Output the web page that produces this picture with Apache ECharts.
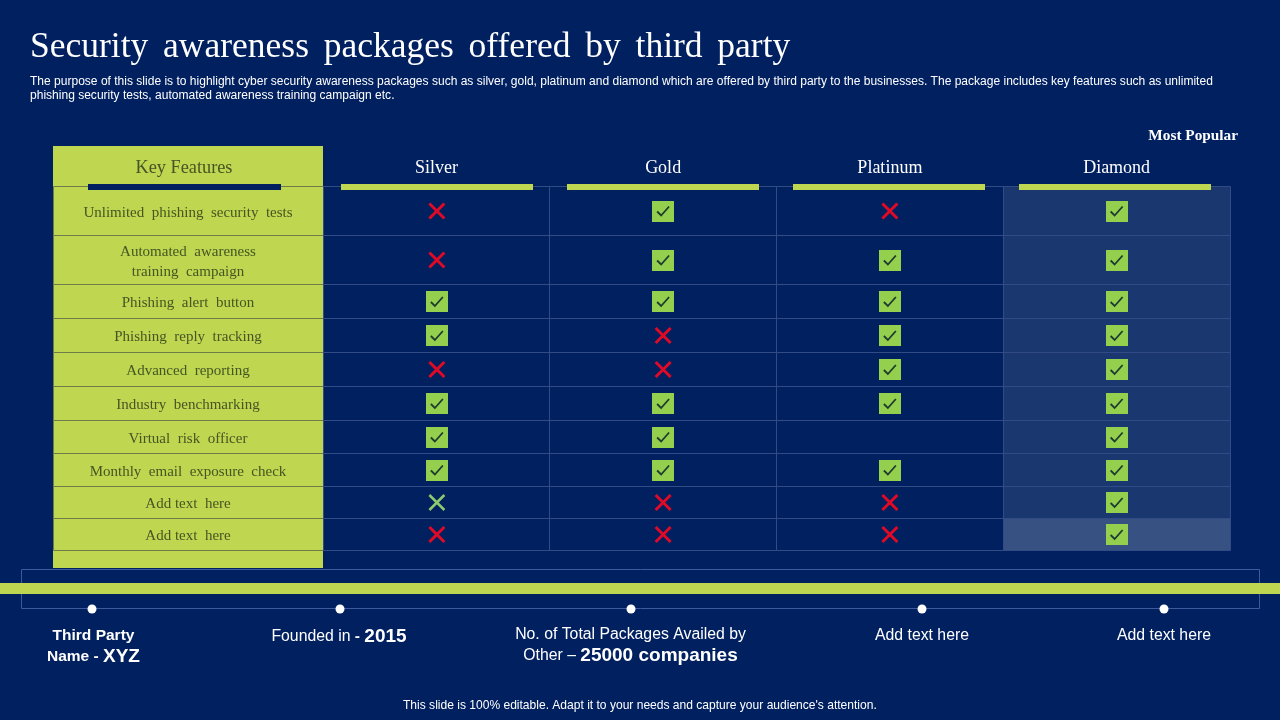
<!DOCTYPE html>
<html>
<head>
<meta charset="utf-8">
<title>Security awareness packages</title>
<style>
  html, body { margin: 0; padding: 0; background: #002060; }
  #main { width: 1280px; height: 720px; }
</style>
<script src="https://cdn.jsdelivr.net/npm/echarts@6/dist/echarts.min.js"></script>
</head>
<body>
<div id="main"></div>
<script>
// c = tick, x = red cross, g = green cross, "" = empty cell
const packages = ["Silver", "Gold", "Platinum", "Diamond"];
const features = [
  "Unlimited  phishing  security  tests",
  "Automated  awareness\ntraining  campaign",
  "Phishing  alert  button",
  "Phishing  reply  tracking",
  "Advanced  reporting",
  "Industry  benchmarking",
  "Virtual  risk  officer",
  "Monthly  email  exposure  check",
  "Add text  here",
  "Add text  here"
];
const silver = ["x", "x", "c", "c", "x", "c", "c", "c", "g", "x"];
const gold = ["c", "c", "c", "x", "x", "c", "c", "c", "x", "x"];
const platinum = ["x", "c", "c", "c", "c", "c", "", "c", "x", "x"];
const diamond = ["c", "c", "c", "c", "c", "c", "c", "c", "c", "c"];
const marks = [silver, gold, platinum, diamond];

// layout, in slide pixels
const rowHeights = [49, 49, 34, 34, 34, 34, 33, 33, 32, 32];
const headerHeight = 41;
const tailHeight = 17;
const LIME = "#BFD650";
const NAVY = "#002060";

const rowTops = [];
rowHeights.reduce((sum, h, i) => { rowTops[i] = sum; return sum + h; }, 0);
const tableHeight = rowHeights.reduce((a, b) => a + b, 0);

// [column, row, mark]
const cellData = [];
marks.forEach((col, c) => col.forEach((m, r) => cellData.push([c, r, m])));

function renderCell(params, api) {
  const c = api.value(0), r = api.value(1), m = marks[c][r];
  const tl = api.coord([c, rowTops[r]]);
  const w = api.size([1, 0])[0];
  const h = rowHeights[r];
  // snap to the pixel grid so the hairlines stay thin
  const x0 = Math.floor(tl[0] - w / 2) + 0.5;
  const x1 = Math.floor(tl[0] + w / 2) + 0.5;
  const y0 = Math.round(tl[1]) - 0.5;
  const cx = tl[0] + (c === 0 ? 0.5 : 0), cy = tl[1] + h / 2 - 0.5;
  let fill = "transparent";
  if (c === 3) fill = r === 9 ? "rgba(255,255,255,0.22)" : "rgba(255,255,255,0.105)";
  const kids = [{
    type: "rect",
    shape: { x: x0, y: y0, width: x1 - x0, height: h },
    style: { fill: fill, stroke: "#324B86", lineWidth: 1 }
  }];
  if (m === "c") {
    kids.push({
      type: "rect",
      shape: { x: Math.round(cx - 11), y: Math.round(cy - 10.5), width: 22, height: 21 },
      style: { fill: "#94D04E" }
    });
    kids.push({
      type: "polyline",
      shape: { points: [[cx - 6, cy + 0.5], [cx - 2, cy + 4.5], [cx + 6, cy - 4.5]] },
      style: { fill: "none", stroke: "#1E3B30", lineWidth: 1.8 }
    });
  } else if (m === "x" || m === "g") {
    const col = m === "x" ? "#DE0A26" : "#8CCB6C";
    const lw = m === "x" ? 3 : 2.5;
    kids.push({
      type: "line",
      shape: { x1: cx - 7.5, y1: cy - 7.5, x2: cx + 7.5, y2: cy + 7.5 },
      style: { stroke: col, lineWidth: lw }
    });
    kids.push({
      type: "line",
      shape: { x1: cx + 7.5, y1: cy - 7.5, x2: cx - 7.5, y2: cy + 7.5 },
      style: { stroke: col, lineWidth: lw }
    });
  }
  return { type: "group", children: kids };
}

function renderHeaderBar(params, api) {
  const c = api.value(0);
  const p = api.coord([c, 0]);
  return {
    type: "rect",
    // bars sit a little tighter than the columns in the slide
    shape: { x: Math.ceil(p[0] - 96 - c * 0.7), y: p[1] - 3, width: 192, height: 6 },
    style: { fill: LIME }
  };
}

function renderFeature(params, api) {
  const r = api.value(0);
  const tl = api.coord([0, rowTops[r]]);
  const w = api.size([1, 0])[0];
  const h = rowHeights[r];
  const x0 = Math.round(tl[0] - w / 2) + 0.5;
  const y0 = Math.round(tl[1]) - 0.5;
  return {
    type: "group",
    children: [{
      type: "rect",
      shape: { x: x0, y: y0, width: Math.round(w), height: h },
      style: { fill: "transparent", stroke: "#6E7D48", lineWidth: 1 }
    }, {
      type: "text",
      style: {
        x: tl[0], y: tl[1] + h / 2 + 1.5,
        text: features[r],
        align: "center", verticalAlign: "middle",
        fontFamily: "Liberation Serif", fontSize: 15, lineHeight: 20,
        fill: "#465524"
      }
    }]
  };
}

// timeline under the table
const milestones = [
  { x: 92, tx: 93.5, y: 646, text: "{b|Third Party}\n{b|Name - }{l|XYZ}" },
  { x: 340, tx: 339, y: 637, text: "{r|Founded in }{b|- }{l|2015}" },
  { x: 631, tx: 630.5, y: 645.5, text: "{r|No. of Total Packages Availed by}\n{r|Other – }{l|25000 companies}" },
  { x: 922, tx: 922, y: 636, text: "{r|Add text here}" },
  { x: 1164, tx: 1164, y: 636, text: "{r|Add text here}" }
];
const milestoneRich = {
  r: { fontFamily: "Liberation Sans", fontSize: 15.8, lineHeight: 21, fill: "#fff" },
  b: { fontFamily: "Liberation Sans", fontSize: 15.5, fontWeight: "bold", lineHeight: 21, fill: "#fff" },
  l: { fontFamily: "Liberation Sans", fontSize: 19, fontWeight: "bold", lineHeight: 21, fill: "#fff" }
};

const timelineGraphics = [
  { type: "rect", z: 1, shape: { x: 21.5, y: 569.5, width: 1238, height: 39 }, style: { fill: "transparent", stroke: "#3D5A9E", lineWidth: 1 } },
  { type: "rect", z: 2, shape: { x: 0, y: 583, width: 1280, height: 11 }, style: { fill: LIME } }
];
milestones.forEach(m => {
  timelineGraphics.push({ type: "circle", z: 3, shape: { cx: m.x, cy: 609, r: 4.5 }, style: { fill: "#fff" } });
  timelineGraphics.push({
    type: "text", z: 3, x: m.tx, y: m.y,
    style: { text: m.text, rich: milestoneRich, align: "center", verticalAlign: "middle" }
  });
});

const chart = echarts.init(document.getElementById("main"), null, { renderer: "canvas" });

const options = {
  animation: false,
  backgroundColor: NAVY,
  title: [
    {
      text: "Security \u2006awareness \u2006packages \u2006offered \u2006by \u2006third \u2006party",
      left: 30, top: 30,
      textStyle: { fontFamily: "Liberation Serif", fontSize: 35.5, fontWeight: "normal", color: "#fff" },
      padding: 0
    },
    {
      text: "The purpose of this slide is to highlight cyber security awareness packages such as silver, gold, platinum and diamond which are offered by third party to the businesses. The package includes key features such as unlimited\nphishing security tests, automated awareness training campaign etc.",
      left: 30, top: 75,
      textStyle: { fontFamily: "Liberation Sans", fontSize: 12.04, fontWeight: "normal", color: "#fff", lineHeight: 14 },
      padding: 0
    },
    {
      text: "Most Popular",
      right: 42, top: 129,
      textStyle: { fontFamily: "Liberation Serif", fontSize: 15.3, fontWeight: "bold", color: "#fff" },
      padding: 0
    },
    {
      text: "This slide is 100% editable. Adapt it to your needs and capture your audience's attention.",
      left: 403, top: 700,
      textStyle: { fontFamily: "Liberation Sans", fontSize: 12.05, fontWeight: "normal", color: "#fff" },
      padding: 0
    }
  ],
  grid: [
    { left: 53, top: 146, width: 270, height: headerHeight + tableHeight + tailHeight, backgroundColor: LIME, show: true, borderWidth: 0 },
    { left: 323, top: 187, width: 907, height: tableHeight, show: false }
  ],
  xAxis: [
    {
      gridIndex: 0, type: "category", position: "top", data: ["Key Features"],
      axisLine: { show: false }, axisTick: { show: false },
      axisLabel: { margin: -31, padding: [0, 8, 0, 0], color: "#465524", fontFamily: "Liberation Serif", fontSize: 18.3 }
    },
    {
      gridIndex: 1, type: "category", position: "top", data: packages,
      axisLine: { show: false }, axisTick: { show: false },
      axisLabel: { margin: 10, color: "#fff", fontFamily: "Liberation Serif", fontSize: 18 }
    }
  ],
  yAxis: [
    { gridIndex: 0, type: "value", inverse: true, min: -headerHeight, max: tableHeight + tailHeight, show: false },
    { gridIndex: 1, type: "value", inverse: true, min: 0, max: tableHeight, show: false }
  ],
  series: [
    {
      type: "custom", xAxisIndex: 0, yAxisIndex: 0, z: 2,
      renderItem: renderFeature,
      data: features.map((f, i) => [i])
    },
    {
      type: "custom", xAxisIndex: 0, yAxisIndex: 0, z: 3,
      renderItem: (params, api) => {
        const p = api.coord([0, 0]);
        return { type: "rect", shape: { x: p[0] - 100, y: p[1] - 3, width: 193, height: 6 }, style: { fill: NAVY } };
      },
      data: [[0]]
    },
    {
      type: "custom", xAxisIndex: 1, yAxisIndex: 1, z: 2,
      renderItem: renderCell,
      data: cellData
    },
    {
      type: "custom", xAxisIndex: 1, yAxisIndex: 1, z: 3,
      renderItem: renderHeaderBar,
      data: packages.map((p, i) => [i])
    }
  ],
  graphic: timelineGraphics
};

chart.setOption(options);
window.addEventListener("resize", () => chart.resize());
</script>
</body>
</html>
